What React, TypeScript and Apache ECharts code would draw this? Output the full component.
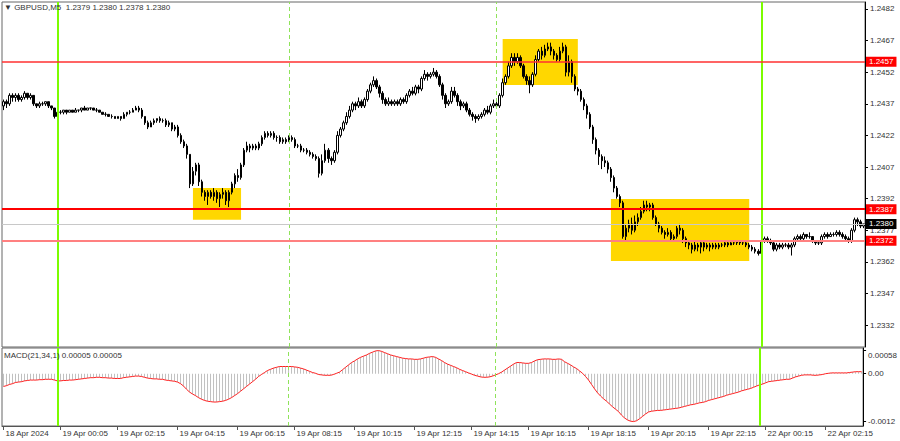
import React, { useEffect, useRef } from "react";
import * as echarts from "echarts";

const SYMBOL = "GBPUSD,M5";
const INDICATOR = "MACD(21,34,1)";
// candle values are stored in pips above BASE: [open, close, low, high]
const BASE = 1.23;
const PIP = 0.0001;
const candlesPips: number[][] = [
  [136,138,134,139],[138,137,135,139],[137,141,136,142],[141,140,138,142],[140,141,138,142],[141,139,138,142],[139,140,138,141],[140,142,139,143],[142,140,139,142],[140,141,139,142],
  [141,137,136,141],[137,136,135,137],[136,137,135,138],[137,137,136,138],[137,138,136,138],[138,136,135,138],[136,135,134,136],[135,131,130,135],[131,133,131,134],[133,133,132,134],
  [133,134,132,134],[134,133,132,134],[133,134,133,134],[134,133,133,134],[133,134,133,135],[134,134,133,134],[134,135,133,135],[135,134,134,136],[134,135,134,135],[135,135,134,135],
  [135,134,134,135],[134,134,133,135],[134,133,133,134],[133,132,132,133],[132,132,131,133],[132,131,131,132],[131,131,130,132],[131,130,130,131],[130,131,130,131],[131,130,129,131],
  [130,132,130,133],[132,133,131,133],[133,133,132,134],[133,134,133,135],[134,135,134,136],[135,134,133,136],[134,131,130,135],[131,128,127,131],[128,126,125,129],[126,128,126,129],
  [128,129,127,130],[129,130,128,130],[130,129,128,131],[129,129,128,130],[129,127,126,130],[127,128,126,129],[128,125,124,128],[125,126,124,127],[126,122,121,127],[122,119,118,123],
  [119,117,116,120],[117,113,111,118],[113,99,97,113],[99,105,98,107],[105,108,103,109],[108,100,98,109],[100,95,93,101],[95,93,91,96],[93,95,89,96],[95,93,92,96],
  [93,95,91,97],[95,92,90,96],[92,94,88,95],[94,95,92,97],[95,91,89,96],[91,95,88,96],[95,99,94,100],[99,103,97,104],[103,102,100,106],[102,108,101,109],
  [108,115,107,116],[115,117,114,119],[117,116,114,118],[116,117,115,118],[117,116,115,118],[116,118,115,119],[118,121,117,122],[121,123,120,124],[123,122,121,124],[122,123,121,124],
  [123,121,120,124],[121,121,119,122],[121,119,118,122],[119,120,118,121],[120,119,118,121],[119,121,119,122],[121,120,119,122],[120,117,116,121],[117,117,116,118],[117,115,114,118],
  [115,115,114,116],[115,114,113,116],[114,113,112,115],[113,112,111,114],[112,111,110,113],[111,104,102,112],[104,110,103,113],[110,115,109,118],[115,111,109,116],[111,110,108,112],
  [110,114,109,115],[114,122,113,124],[122,125,121,126],[125,128,124,129],[128,131,127,133],[131,134,130,136],[134,137,133,138],[137,136,134,138],[136,138,135,140],[138,136,135,139],
  [136,139,135,140],[139,143,138,144],[143,146,142,147],[146,148,145,150],[148,145,144,149],[145,142,140,146],[142,139,137,143],[139,137,136,140],[137,138,136,140],[138,137,136,139],
  [137,138,136,139],[138,137,136,139],[137,139,136,140],[139,138,137,140],[138,141,137,142],[141,143,140,144],[143,142,141,145],[142,145,141,146],[145,144,142,146],[144,149,143,150],
  [149,151,148,153],[151,150,148,152],[150,151,149,152],[151,152,150,154],[152,150,149,153],[150,146,145,151],[146,141,139,147],[141,137,135,142],[137,138,136,139],[138,143,137,145],
  [143,141,140,145],[141,138,136,142],[138,136,134,139],[136,137,135,138],[137,134,133,138],[134,132,131,135],[132,131,129,133],[131,130,128,132],[130,131,129,132],[131,132,130,133],
  [132,134,131,135],[134,133,132,136],[133,136,132,137],[136,137,135,139],[137,136,135,138],[136,141,135,142],[141,147,140,149],[147,150,146,151],[150,155,149,157],[155,159,154,161],
  [159,157,155,161],[157,159,156,161],[159,155,154,160],[155,150,149,156],[150,148,146,151],[148,146,142,150],[146,151,145,152],[151,158,150,160],[158,162,157,163],[162,160,158,164],
  [160,163,159,165],[163,164,162,166],[164,162,160,166],[162,160,158,163],[160,158,157,161],[158,162,157,164],[162,164,161,166],[164,152,150,165],[152,157,150,160],[157,150,147,158],
  [150,144,143,151],[144,143,141,145],[143,139,138,144],[139,136,134,140],[136,132,130,137],[132,126,125,133],[126,120,118,127],[120,115,113,121],[115,112,108,116],[112,110,106,113],
  [110,109,107,112],[109,106,104,110],[106,102,100,107],[102,97,95,103],[97,93,92,98],[93,90,88,94],[90,74,73,91],[74,78,72,80],[78,80,76,82],[80,77,75,83],
  [77,81,76,84],[81,83,79,85],[83,86,82,88],[86,89,85,91],[89,88,86,91],[88,89,86,90],[89,83,82,90],[83,80,79,84],[80,78,76,81],[78,76,75,79],
  [76,75,73,77],[75,76,74,78],[76,73,72,77],[73,74,72,75],[74,78,73,79],[78,77,75,80],[77,73,71,78],[73,71,69,74],[71,70,68,72],[70,68,66,71],
  [68,70,67,72],[70,69,67,71],[69,71,66,72],[71,69,67,72],[69,70,68,71],[70,69,67,71],[69,70,68,71],[70,69,68,71],[69,70,68,71],[70,70,69,71],
  [70,71,69,72],[71,70,69,72],[70,71,70,72],[71,71,70,72],[71,72,70,72],[72,71,70,72],[71,71,70,72],[71,70,69,72],[70,69,68,71],[69,68,67,70],
  [68,67,66,69],[67,66,65,68],[66,72,65,73],[72,73,71,74],[73,72,71,74],[72,71,70,73],[71,68,67,72],[68,70,67,71],[70,69,68,71],[69,70,68,71],
  [70,70,69,71],[70,69,68,71],[69,70,65,71],[70,73,69,74],[73,74,72,75],[74,73,72,75],[73,75,72,76],[75,74,73,75],[74,74,73,76],[74,72,71,74],
  [72,71,70,72],[71,71,70,72],[71,74,70,75],[74,75,73,76],[75,74,73,76],[74,75,74,76],[75,75,74,76],[75,76,74,77],[76,75,74,77],[75,74,73,76],
  [74,73,72,75],[73,72,71,74],[72,77,71,78],[77,82,76,83],[82,81,79,83],[81,79,78,82],[79,80,78,80],
];

// MACD values in units of 0.00001
const macdE5: number[] = [
  -32,-30,-27,-25,-22,-21,-20,-18,-17,-16,-16,-16,-15,-15,-14,-14,-14,-16,-18,-18,
  -17,-17,-16,-16,-15,-14,-13,-12,-11,-10,-10,-9,-9,-10,-10,-11,-11,-12,-12,-12,
  -10,-9,-8,-7,-6,-6,-7,-9,-11,-12,-13,-13,-14,-14,-16,-17,-18,-19,-21,-25,
  -31,-39,-46,-51,-55,-60,-64,-67,-69,-70,-71,-71,-70,-69,-67,-64,-60,-55,-50,-44,
  -38,-32,-26,-20,-14,-7,-2,3,8,11,14,16,18,18,18,18,18,17,16,14,
  12,9,6,3,1,-2,-3,-4,-4,-4,-2,1,4,10,16,22,28,32,37,41,
  44,47,51,54,57,58,56,53,50,47,45,43,41,39,38,37,37,36,36,37,
  39,41,42,43,41,37,33,28,24,21,18,15,11,8,5,2,-1,-4,-6,-8,
  -9,-9,-8,-6,-3,0,4,9,14,19,24,28,28,27,26,26,28,32,35,36,
  37,37,37,36,36,37,36,30,26,22,17,13,7,1,-7,-16,-27,-38,-48,-56,
  -63,-69,-76,-83,-89,-95,-104,-111,-116,-119,-120,-118,-113,-107,-101,-96,-94,-93,-92,-92,
  -91,-90,-89,-88,-87,-86,-84,-82,-80,-78,-77,-75,-73,-72,-70,-67,-65,-63,-61,-59,
  -57,-54,-52,-50,-48,-46,-43,-41,-39,-37,-34,-31,-28,-26,-23,-20,-19,-18,-17,-16,
  -15,-14,-14,-11,-8,-6,-4,-3,-3,-3,-4,-4,-3,-2,0,1,2,2,2,2,
  2,2,3,4,5,5,5,
];

const priceTicks = [1.2482, 1.2467, 1.2452, 1.2437, 1.2422, 1.2407, 1.2392, 1.2377, 1.2362, 1.2347, 1.2332];
const macdTickValues = [0.00058, 0, -0.0012];
const macdTickTexts = ["0.00058", "0.00", "-0.0012"];
const timeTickIndex = [0, 19, 38, 58, 78, 97, 117, 137, 156, 175, 195, 215, 235, 254, 274];
const timeTickTexts = [
  "18 Apr 2024", "19 Apr 00:05", "19 Apr 02:15", "19 Apr 04:15", "19 Apr 06:15", "19 Apr 08:15",
  "19 Apr 10:15", "19 Apr 12:15", "19 Apr 14:15", "19 Apr 16:15", "19 Apr 18:15", "19 Apr 20:15",
  "19 Apr 22:15", "22 Apr 00:15", "22 Apr 02:15",
];
const levelPrices = [1.2457, 1.2387, 1.2372];
const levelColors = ["#ff3030", "#ff0000", "#ff8080"];
const levelWidths = [1.5, 2, 2];
const bidPrice = 1.238;
const sessionLineIndex = [18, 252];
const dayLineIndex = [95, 164];
const boxFrom = [63, 166, 202];
const boxTo = [79, 191, 248];
const boxTop = [1.2397, 1.24678, 1.23918];
const boxBottom = [1.2382, 1.24459, 1.23624];

const PRICE_MIN = 1.23216;
const PRICE_MAX = 1.24853;
const MACD_MIN = -0.001311;
const MACD_MAX = 0.000644;

const FONT = "'Liberation Sans', Arial, sans-serif";

function buildOption() {
  const n = candlesPips.length;
  const cats = candlesPips.map((_, i) => String(i));
  const candleData = candlesPips.map((c) => c.map((v) => +(BASE + v * PIP).toFixed(5)));
  const macdData = macdE5.map((v) => +(v * 1e-5).toFixed(6));
  const tickMap = new Map<number, string>(timeTickIndex.map((i, k) => [i, timeTickTexts[k]]));
  const last = candleData[n - 1];
  const header = `\u25BC ${SYMBOL}  ${last[0].toFixed(4)} ${last[3].toFixed(4)} ${last[2].toFixed(4)} ${last[1].toFixed(4)}`;
  const lastMacd = macdData[n - 1];
  const macdHeader = `${INDICATOR} ${lastMacd.toFixed(5)} ${lastMacd.toFixed(5)}`;

  const vLines = () => [
    ...sessionLineIndex.map((i) => ({ xAxis: i, lineStyle: { color: "#7CFC00", width: 2, type: "solid" } })),
    ...dayLineIndex.map((i) => ({ xAxis: i, lineStyle: { color: "#8fe35a", width: 1, type: [4, 3] } })),
  ];

  const markLabel = (text: string, bg: string) => ({
    show: true,
    position: "end",
    formatter: text,
    backgroundColor: bg,
    color: "#ffffff",
    padding: [1, 3, 1, 3],
    distance: 1,
    fontSize: 8,
    fontFamily: FONT,
  });

  const levelLines = levelPrices.map((p, k) => ({
    yAxis: p,
    lineStyle: { color: levelColors[k], width: levelWidths[k], type: "solid", opacity: 1 },
    label: markLabel(p.toFixed(4), "#ff0000"),
  }));
  const bidLine = {
    yAxis: bidPrice,
    lineStyle: { color: "#c8c8c8", width: 1, type: "solid", opacity: 1 },
    label: markLabel(bidPrice.toFixed(4), "#000000"),
  };

  const hidden = {
    data: candleData.map((c) => c[1]), showSymbol: false, symbol: "none",
    lineStyle: { opacity: 0, width: 0 },
  };

  return {
    animation: false,
    backgroundColor: "#ffffff",
    textStyle: { fontFamily: FONT },
    title: [
      { text: header, left: 4, top: 3, padding: 0, textStyle: { fontSize: 8, fontWeight: "normal", color: "#333", fontFamily: FONT } },
      { text: macdHeader, left: 4, top: 351, padding: 0, textStyle: { fontSize: 8, fontWeight: "normal", color: "#333", fontFamily: FONT } },
    ],
    grid: [
      { left: 2, top: 2, width: 863, height: 345, show: true, borderColor: "#666", borderWidth: 1 },
      { left: 2, top: 348, width: 863, height: 78, show: true, borderColor: "#666", borderWidth: 1 },
    ],
    xAxis: [
      {
        type: "category", gridIndex: 0, data: cats, boundaryGap: true,
        axisLine: { show: false }, axisTick: { show: false }, axisLabel: { show: false }, splitLine: { show: false },
      },
      {
        type: "category", gridIndex: 1, data: cats, boundaryGap: true,
        axisLine: { show: true, onZero: false, lineStyle: { color: "#555" } },
        axisTick: { show: true, alignWithLabel: true, length: 4, interval: (i: number) => tickMap.has(i), lineStyle: { color: "#555" } },
        axisLabel: {
          show: true, interval: (i: number) => tickMap.has(i),
          formatter: (v: string) => tickMap.get(Number(v)) ?? "",
          align: "left", margin: 3, fontSize: 8, color: "#333", fontFamily: FONT, padding: [0, 0, 0, 2],
        },
        splitLine: { show: false },
      },
    ],
    yAxis: [
      {
        type: "value", gridIndex: 0, position: "right", min: PRICE_MIN, max: PRICE_MAX,
        splitLine: { show: false },
        axisLine: { show: true, lineStyle: { color: "#000" } },
        axisTick: { show: true, customValues: priceTicks, length: 3, lineStyle: { color: "#000" } },
        axisLabel: { show: true, customValues: priceTicks, formatter: (v: number) => v.toFixed(4), margin: 5, fontSize: 8, color: "#333", fontFamily: FONT },
      },
      {
        type: "value", gridIndex: 1, position: "right", min: MACD_MIN, max: MACD_MAX,
        splitLine: { show: false },
        axisLine: { show: true, lineStyle: { color: "#000" } },
        axisTick: { show: true, customValues: macdTickValues, length: 3, lineStyle: { color: "#000" } },
        axisLabel: {
          show: true, customValues: macdTickValues, margin: 5, fontSize: 8, color: "#333", fontFamily: FONT,
          formatter: (v: number) => {
            let best = 0;
            macdTickValues.forEach((t, k) => { if (Math.abs(t - v) < Math.abs(macdTickValues[best] - v)) best = k; });
            return best === 0 ? `{top|${macdTickTexts[best]}}` : macdTickTexts[best];
          },
          rich: { top: { padding: [10, 0, 0, 0], fontSize: 8, color: "#333", fontFamily: FONT } },
        },
      },
    ],
    series: [
      {
        name: "boxes", type: "line", xAxisIndex: 0, yAxisIndex: 0, z: 1, silent: true, ...hidden,
        markArea: {
          silent: true,
          itemStyle: { color: "#FFD700" },
          data: boxFrom.map((f, k) => [
            { xAxis: f, yAxis: boxTop[k] },
            { xAxis: boxTo[k], yAxis: boxBottom[k] },
          ]),
        },
      },
      {
        name: "separators", type: "line", xAxisIndex: 0, yAxisIndex: 0, z: 2, silent: true, ...hidden,
        markLine: {
          silent: true, symbol: ["none", "none"], animation: false, precision: 5,
          label: { show: false },
          data: vLines(),
        },
      },
      {
        name: "levels", type: "line", xAxisIndex: 0, yAxisIndex: 0, z: 2, silent: true, ...hidden,
        color: "#ff0000",
        markLine: {
          silent: true, symbol: ["none", "none"], animation: false, precision: 5,
          lineStyle: { color: "#ff0000" },
          data: [bidLine, ...levelLines],
        },
      },
      {
        name: SYMBOL, type: "candlestick", xAxisIndex: 0, yAxisIndex: 0, z: 3,
        data: candleData, barWidth: 2,
        itemStyle: { color: "#ffffff", color0: "#000000", borderColor: "#000000", borderColor0: "#000000", borderWidth: 1 },
      },
      {
        name: "macd", type: "bar", xAxisIndex: 1, yAxisIndex: 1, z: 2,
        data: macdData, barWidth: 1, itemStyle: { color: "#c0c0c0" },
        markLine: {
          silent: true, symbol: ["none", "none"], animation: false, precision: 5,
          label: { show: false },
          data: vLines(),
        },
      },
      {
        name: "signal", type: "line", xAxisIndex: 1, yAxisIndex: 1, z: 3,
        data: macdData, showSymbol: false, symbol: "none",
        lineStyle: { color: "#ff2020", width: 1 },
      },
    ],
  };
}

export default function App() {
  const ref = useRef<HTMLDivElement>(null);
  useEffect(() => {
    document.body.style.margin = "0";
    const chart = echarts.init(ref.current!, undefined, { renderer: "svg", width: 900, height: 441 });
    chart.setOption(buildOption() as any);
    return () => chart.dispose();
  }, []);
  return <div ref={ref} style={{ width: 900, height: 441, position: "absolute", left: 0, top: 0 }} />;
}
